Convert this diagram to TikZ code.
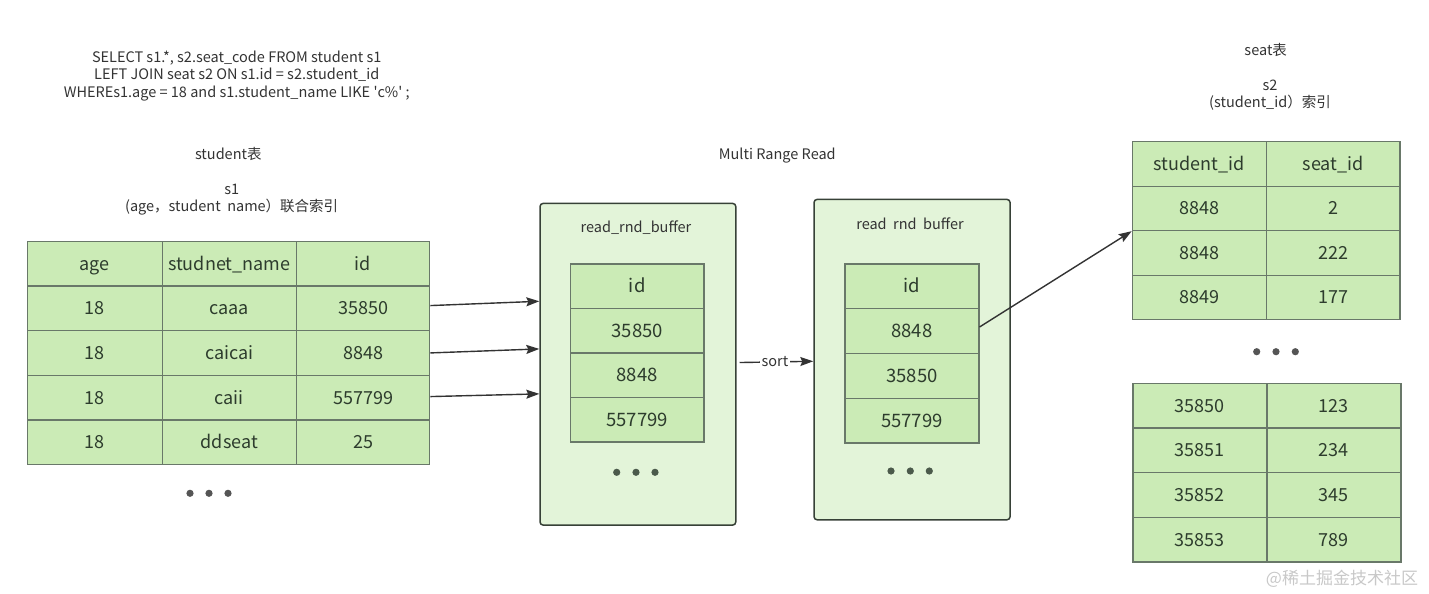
\documentclass[tikz,border=0pt]{standalone}
\usepackage{fontspec}
\setmainfont{Noto Sans CJK SC}
\usetikzlibrary{arrows.meta,calc}
\definecolor{cellfill}{RGB}{203,235,182}
\definecolor{cellline}{RGB}{105,120,105}
\definecolor{buffill}{RGB}{227,244,217}
\definecolor{bufline}{RGB}{55,65,55}
\definecolor{txt}{RGB}{51,51,51}
\definecolor{celltxt}{RGB}{45,60,45}
\definecolor{dotc}{RGB}{75,90,75}
\definecolor{dotg}{RGB}{85,85,85}
\definecolor{wmc}{RGB}{200,200,200}
\begin{document}
\begin{tikzpicture}[x=1pt,y=-1pt,
  cell/.style={draw=cellline, line width=1.2pt, fill=cellfill, inner sep=0pt, anchor=north west, text=celltxt, font=\fontsize{18}{20}\selectfont, text height=13pt, text depth=0pt},
  lbl/.style={text=txt, font=\fontsize{14.5}{17.5}\selectfont, align=center, inner sep=0pt},
  buf/.style={draw=bufline, line width=1.5pt, fill=buffill, rounded corners=3pt, inner sep=0pt, anchor=north west},
  arr/.style={draw=txt, line width=1.4pt, -{Stealth[length=13pt,width=9pt,inset=2pt]}},
]
\useasboundingbox (0,0) rectangle (1429,594);

% labels
\node[lbl] (sql) at (236.7,75.7) {SELECT s1.*, s2.seat\_code FROM student s1\\LEFT JOIN seat s2 ON s1.id = s2.student\_id\\WHEREs1.age = 18 and s1.student\_name LIKE \textquotesingle c\%\textquotesingle\ ;};
\node[lbl] (stt) at (228.3,154) {student表};
\node[lbl] (s1) at (231.7,199.5) {s1\\(age，student\ \ name）联合索引};
\node[lbl] (mrr) at (777.3,155.7) {Multi Range Read};
\node[lbl] (seatt) at (1265.7,50) {seat表};
\node[lbl] (s2) at (1270,95) {s2\\(student\_id）索引};
\node[lbl, text=wmc, font=\fontsize{17}{20}\selectfont] (wm) at (1342,578.3) {@稀土掘金技术社区};

% student table
\foreach \a/\b/\c [count=\i from 0] in {age/studnet\_name/id, 18/caaa/35850, 18/caicai/8848, 18/caii/557799, 18/ddseat/25}{
  \node[cell, minimum width=134.5, minimum height=44.65] (st-\i-0) at (27,{240.7+44.65*\i}) {\a};
  \node[cell, minimum width=134, minimum height=44.65] (st-\i-1) at (161.7,{240.7+44.65*\i}) {\b};
  \node[cell, minimum width=133.5, minimum height=44.65] (st-\i-2) at (295.7,{240.7+44.65*\i}) {\c};
}
\foreach \x in {190,209,228} \fill[dotg] (\x,493.3) circle (3.6);

% buffer 1
\node[buf, minimum width=195.7, minimum height=321.6] (buf1) at (539.3,202.7) {};
\node[lbl] (buf1t) at (636,227.7) {read\_rnd\_buffer};
\foreach \t [count=\i from 0] in {id,35850,8848,557799}
  \node[cell, minimum width=133.3, minimum height=44.5, font=\fontsize{18.5}{20}\selectfont] (b1-\i) at (570,{263.3+44.5*\i}) {\t};
\foreach \x in {616.7,636,655} \fill[dotc] (\x,472.3) circle (3.6);

% buffer 2
\node[buf, minimum width=196, minimum height=320.3] (buf2) at (813.3,198.7) {};
\node[lbl] (buf2t) at (910,223.3) {read\ \ rnd\ \ buffer};
\foreach \t [count=\i from 0] in {id,8848,35850,557799}
  \node[cell, minimum width=134, minimum height=44.75, font=\fontsize{18.5}{20}\selectfont] (b2-\i) at (844.3,{263.3+44.75*\i}) {\t};
\foreach \x in {891,910.3,929.3} \fill[dotc] (\x,471) circle (3.6);

% seat table top
\foreach \a/\b [count=\i from 0] in {student\_id/seat\_id, 8848/2, 8848/222, 8849/177}{
  \node[cell, minimum width=134, minimum height=44.5] (sa-\i-0) at (1131.7,{141+44.5*\i}) {\a};
  \node[cell, minimum width=133.6, minimum height=44.5] (sa-\i-1) at (1265.7,{141+44.5*\i}) {\b};
}
\foreach \x in {1256.7,1276,1295.3} \fill[dotg] (\x,351.7) circle (3.6);

% seat table bottom
\foreach \a/\b [count=\i from 0] in {35850/123, 35851/234, 35852/345, 35853/789}{
  \node[cell, minimum width=134, minimum height=44.65] (sb-\i-0) at (1132.3,{382.7+44.65*\i}) {\a};
  \node[cell, minimum width=134, minimum height=44.65] (sb-\i-1) at (1266.3,{382.7+44.65*\i}) {\b};
}

% connectors
\draw[arr] ($(st-1-2.east)+(0,-2.7)$) -- ($(buf1.west |- st-1-2.east)+(0,-7)$);
\draw[arr] (st-2-2.east) -- ($(buf1.west |- st-2-2.east)+(0,-4)$);
\draw[arr] ($(st-3-2.east)+(0,-1)$) -- ($(buf1.west |- st-3-2.east)+(0,-3.7)$);
\draw[arr, shorten <=3pt] (buf1) -- node[lbl, fill=white, inner sep=1.5pt] (sortl) {sort} (buf2);
\draw[arr] ($(b2-1.east)+(0,-4)$) -- (sa-1-0.south west);
\end{tikzpicture}
\end{document}
